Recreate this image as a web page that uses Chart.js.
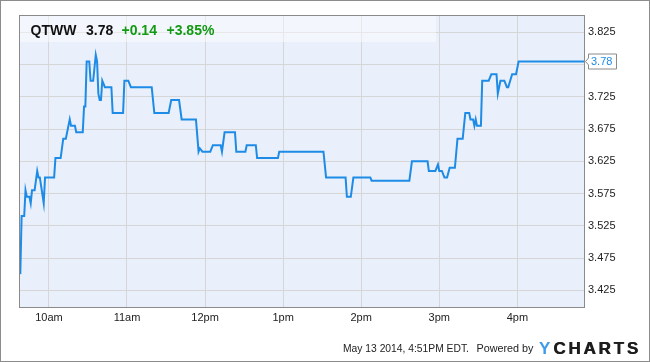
<!DOCTYPE html>
<html>
<head>
<meta charset="utf-8">
<script src="https://cdn.jsdelivr.net/npm/chart.js@4.4.1/dist/chart.umd.min.js"></script>
<style>
html,body{margin:0;padding:0;background:#fff;}
#wrap{width:650px;height:362px;position:relative;}
</style>
</head>
<body>
<div id="wrap"><canvas id="c" width="650" height="362"></canvas></div>
<script>
// ---- data (times in minutes since midnight, Eastern) ----
const times = [578,579,581,582,583,585,586,587,589,591,592,593,596,597,604,605,609,611,613,616,617,620,621,626,627,628,629,631,632,634,636,637,638,639,640,641,643,648,649,657,658,661,663,679,681,692,694,700,702,713,715,716,718,724,726,732,733,735,743,744,751,752,759,760,776,777,811,813,828,829,832,834,847,848,877,879,891,892,897,899,900,902,904,906,908,912,914,918,920,923,924,926,927,928,929,932,933,938,940,944,945,947,950,952,953,956,959,961,1012];
const prices = [3.45,3.54,3.54,3.58,3.57,3.57,3.56,3.58,3.58,3.61,3.60,3.60,3.56,3.60,3.60,3.63,3.63,3.66,3.66,3.69,3.68,3.68,3.67,3.67,3.71,3.71,3.78,3.78,3.75,3.75,3.79,3.78,3.73,3.72,3.72,3.75,3.74,3.74,3.70,3.70,3.75,3.75,3.74,3.74,3.70,3.70,3.72,3.72,3.69,3.69,3.64,3.645,3.64,3.64,3.65,3.65,3.64,3.67,3.67,3.64,3.64,3.65,3.65,3.63,3.63,3.64,3.64,3.60,3.60,3.57,3.57,3.60,3.60,3.595,3.595,3.625,3.625,3.61,3.61,3.62,3.61,3.61,3.60,3.60,3.615,3.615,3.66,3.66,3.70,3.70,3.69,3.69,3.68,3.69,3.68,3.68,3.75,3.75,3.76,3.76,3.73,3.75,3.75,3.74,3.74,3.76,3.76,3.78,3.78];
const xTickValues = [600,660,720,780,840,900,960];
const xTickLabels = ["10am","11am","12pm","1pm","2pm","3pm","4pm"];
const yTickValues = [3.425,3.475,3.525,3.575,3.625,3.675,3.725,3.775,3.825];
const yTickLabels = ["3.425","3.475","3.525","3.575","3.625","3.675","3.725","3.775","3.825"];
const ticker = "QTWW";
const lastPrice = "3.78";
const change = "+0.14";
const changePct = "+3.85%";
const footerDate = "May 13 2014, 4:51PM EDT.";

const FONT = "'Liberation Sans', Arial, sans-serif";
const LINE = '#1e8be6';

const decor = {
  id: 'decor',
  beforeDraw(chart) {
    const {ctx, chartArea: a} = chart;
    ctx.save();
    ctx.fillStyle = '#fff';
    ctx.fillRect(0, 0, chart.width, chart.height);
    ctx.fillStyle = '#e9f0fb';
    ctx.fillRect(a.left, a.top, a.right - a.left, a.bottom - a.top);
    ctx.restore();
  },
  beforeDatasetsDraw(chart) {
    const {ctx, chartArea: a} = chart;
    ctx.save();
    ctx.fillStyle = 'rgba(255,255,255,0.45)';
    ctx.fillRect(a.left, a.top, 436 - a.left, 42 - a.top);
    ctx.restore();
  },
  afterDraw(chart) {
    const {ctx, chartArea: a} = chart;
    ctx.save();
    // plot border
    ctx.strokeStyle = '#8a8a8a';
    ctx.lineWidth = 1;
    ctx.strokeRect(a.left + 0.5, a.top + 0.5, a.right - a.left - 1, a.bottom - a.top);
    // outer border
    ctx.strokeStyle = '#8c8c8c';
    ctx.strokeRect(0.5, 0.5, chart.width - 1, chart.height - 1);

    // title
    ctx.textBaseline = 'alphabetic';
    ctx.textAlign = 'left';
    ctx.font = 'bold 14px ' + FONT;
    ctx.fillStyle = '#111';
    ctx.fillText(ticker, 30.5, 35);
    ctx.fillText(lastPrice, 86, 35);
    ctx.fillStyle = '#139a13';
    ctx.fillText(change, 121.5, 35);
    ctx.fillText(changePct, 166.5, 35);

    // price label
    const ys = chart.scales.y;
    const py = Math.round(ys.getPixelForValue(prices[prices.length - 1])) + 0.5;
    ctx.beginPath();
    ctx.moveTo(585.5, py);
    ctx.lineTo(588.5, py - 3.5);
    ctx.lineTo(588.5, py - 7.5);
    ctx.lineTo(616.5, py - 7.5);
    ctx.lineTo(616.5, py + 7.5);
    ctx.lineTo(588.5, py + 7.5);
    ctx.lineTo(588.5, py + 3.5);
    ctx.closePath();
    ctx.fillStyle = '#fff';
    ctx.fill();
    ctx.strokeStyle = '#8a8a8a';
    ctx.stroke();
    ctx.font = '11px ' + FONT;
    ctx.fillStyle = LINE;
    ctx.textBaseline = 'middle';
    ctx.fillText(lastPrice, 591, py + 0.5);

    // footer
    ctx.fillStyle = '#222';
    ctx.textBaseline = 'middle';
    ctx.font = '10.3px ' + FONT;
    ctx.fillText(footerDate, 343, 349);
    ctx.font = '10.8px ' + FONT;
    ctx.fillText('Powered by', 476.5, 349);
    // logo
    ctx.font = '900 17px ' + FONT;
    ctx.textBaseline = 'alphabetic';
    let x = 539;
    const letters = 'YCHARTS';
    for (let i = 0; i < letters.length; i++) {
      ctx.fillStyle = i === 0 ? '#3d9be9' : '#1d1d1d';
      ctx.fillText(letters[i], x, 353.5);
      if (i > 0) ctx.fillText(letters[i], x + 0.6, 353.5);
      x += ctx.measureText(letters[i]).width + 2.8;
    }
    ctx.restore();
  }
};

new Chart(document.getElementById('c'), {
  type: 'line',
  data: {
    datasets: [{
      data: times.map((t, i) => ({x: t, y: prices[i]})),
      borderColor: LINE,
      borderWidth: 2,
      pointRadius: 0,
      tension: 0,
      fill: false
    }]
  },
  options: {
    responsive: false,
    animation: false,
    events: [],
    layout: {padding: {left: 19, top: 15, right: 0, bottom: 0}},
    plugins: {legend: {display: false}, tooltip: {enabled: false}, title: {display: false}},
    scales: {
      x: {
        type: 'linear',
        min: 577,
        max: 1012,
        afterBuildTicks: s => { s.ticks = xTickValues.map(v => ({value: v})); },
        afterFit: s => { s.height = 55; },
        grid: {color: '#d6d6d6', drawTicks: false, lineWidth: 1},
        border: {display: false},
        ticks: {
          autoSkip: false, maxRotation: 0, padding: 4,
          color: '#222', font: {family: FONT, size: 11},
          callback: (v, i) => xTickLabels[i]
        }
      },
      y: {
        position: 'right',
        min: 3.399,
        max: 3.852,
        afterBuildTicks: s => { s.ticks = yTickValues.map(v => ({value: v})); },
        afterFit: s => { s.width = 65; },
        grid: {color: '#d6d6d6', drawTicks: false, lineWidth: 1},
        border: {display: false},
        ticks: {
          padding: 3,
          color: '#222', font: {family: FONT, size: 11},
          callback: (v, i) => yTickLabels[i]
        }
      }
    }
  },
  plugins: [decor]
});
</script>
</body>
</html>
